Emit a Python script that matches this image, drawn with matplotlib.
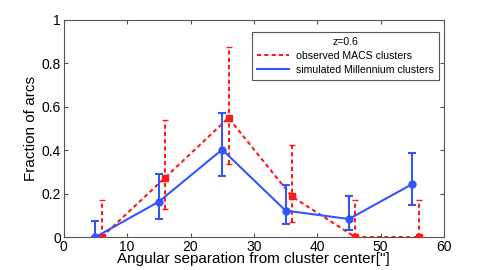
import matplotlib
matplotlib.use("Agg")
import matplotlib.pyplot as plt
from matplotlib.lines import Line2D

plt.rcParams["font.family"] = ["Liberation Sans", "DejaVu Sans"]

# simulated Millennium clusters
sim_x = [5, 15, 25, 35, 45, 55]
sim_y = [0.0, 0.163, 0.403, 0.122, 0.083, 0.244]
sim_lo = [0.0, 0.085, 0.279, 0.059, 0.032, 0.148]
sim_hi = [0.075, 0.29, 0.573, 0.239, 0.187, 0.386]

# observed MACS clusters
obs_x = [6, 16, 26, 36, 46, 56]
obs_y = [0.0, 0.274, 0.549, 0.187, 0.0, 0.0]
obs_lo = [0.0, 0.128, 0.335, 0.068, 0.0, 0.0]
obs_hi = [0.17, 0.54, 0.876, 0.424, 0.171, 0.17]

red = "#ff1a1a"
blue = "#3355ff"
dash = (0, (2, 1.5))

fig = plt.figure(figsize=(4.91, 2.7), dpi=100)
ax = fig.add_axes([0.130, 0.122, 0.774, 0.804])

obs_err = [[y - l for y, l in zip(obs_y, obs_lo)], [h - y for y, h in zip(obs_y, obs_hi)]]
sim_err = [[y - l for y, l in zip(sim_y, sim_lo)], [h - y for y, h in zip(sim_y, sim_hi)]]

eb1 = ax.errorbar(obs_x, obs_y, yerr=obs_err, color=red, ls=dash, lw=1.5,
                  marker="s", ms=4, capsize=2, elinewidth=1.5,
                  zorder=3)
eb1[-1][0].set_linestyle(dash)
eb2 = ax.errorbar(sim_x, sim_y, yerr=sim_err, color=blue, ls="-", lw=1.5,
                  marker="o", ms=5, capsize=3, elinewidth=1.5, capthick=1.5,
                  zorder=4)

ax.set_xlim(0, 60)
ax.set_ylim(0, 1)
ax.set_xticks([0, 10, 20, 30, 40, 50, 60])
ax.set_yticks([0, 0.2, 0.4, 0.6, 0.8, 1])
ax.set_yticklabels(["0", "0.2", "0.4", "0.6", "0.8", "1"])
ax.tick_params(direction="in", top=True, right=True, labelsize=10, length=3,
               color="#555555", pad=2)
for s in ax.spines.values():
    s.set_color("#555555")
    s.set_linewidth(0.8)

ax.set_xlabel("Angular separation from cluster center[\"]", fontsize=11, labelpad=-1)
ax.set_ylabel("Fraction of arcs", fontsize=11, labelpad=3)

handles = [Line2D([], [], color=red, ls=dash, lw=1.5),
           Line2D([], [], color=blue, ls="-", lw=1.5)]
labels = ["observed MACS clusters", "simulated Millennium clusters"]
leg = ax.legend(handles, labels, loc="upper right", title="z=0.6", fontsize=7.6,
                title_fontsize=7.6, fancybox=False, framealpha=1, edgecolor="#555555",
                bbox_to_anchor=(0.987, 0.945),
                handlelength=3.0, handletextpad=0.7, labelspacing=0.35,
                borderpad=0.5, borderaxespad=0)
leg.get_frame().set_linewidth(0.8)

fig.savefig("out.png", dpi=100)
